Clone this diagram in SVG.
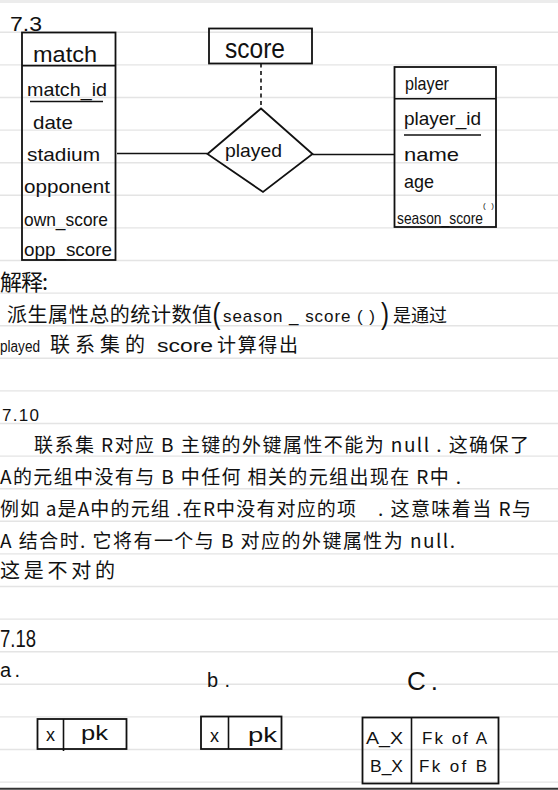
<svg xmlns="http://www.w3.org/2000/svg" width="558" height="790" viewBox="0 0 558 790">
<style>
.rule{stroke:#e4e4e4;stroke-width:1.4}
.box{fill:none;stroke:#111;stroke-width:1.8}
.ln{stroke:#111;stroke-width:1.6;fill:none}
.en{font-family:"Liberation Sans","DejaVu Sans",sans-serif;fill:#111}
.cn{font-family:"Noto Sans CJK SC","Noto Sans",sans-serif;fill:#111}
</style>
<rect x="0" y="0" width="558" height="790" fill="#fff"/>
<rect x="0" y="0" width="558" height="3" fill="#ececec"/>
<g id="ruling">
<line class="rule" x1="0" y1="32.3" x2="558" y2="32.3"/>
<line class="rule" x1="0" y1="64.9" x2="558" y2="64.9"/>
<line class="rule" x1="0" y1="97.5" x2="558" y2="97.5"/>
<line class="rule" x1="0" y1="130.1" x2="558" y2="130.1"/>
<line class="rule" x1="0" y1="162.7" x2="558" y2="162.7"/>
<line class="rule" x1="0" y1="195.3" x2="558" y2="195.3"/>
<line class="rule" x1="0" y1="227.9" x2="558" y2="227.9"/>
<line class="rule" x1="0" y1="260.5" x2="558" y2="260.5"/>
<line class="rule" x1="0" y1="293.1" x2="558" y2="293.1"/>
<line class="rule" x1="0" y1="325.7" x2="558" y2="325.7"/>
<line class="rule" x1="0" y1="358.3" x2="558" y2="358.3"/>
<line class="rule" x1="0" y1="390.9" x2="558" y2="390.9"/>
<line class="rule" x1="0" y1="423.5" x2="558" y2="423.5"/>
<line class="rule" x1="0" y1="456.1" x2="558" y2="456.1"/>
<line class="rule" x1="0" y1="488.7" x2="558" y2="488.7"/>
<line class="rule" x1="0" y1="521.3" x2="558" y2="521.3"/>
<line class="rule" x1="0" y1="553.9" x2="558" y2="553.9"/>
<line class="rule" x1="0" y1="586.5" x2="558" y2="586.5"/>
<line class="rule" x1="0" y1="619.1" x2="558" y2="619.1"/>
<line class="rule" x1="0" y1="651.7" x2="558" y2="651.7"/>
<line class="rule" x1="0" y1="684.3" x2="558" y2="684.3"/>
<line class="rule" x1="0" y1="716.9" x2="558" y2="716.9"/>
<line class="rule" x1="0" y1="749.5" x2="558" y2="749.5"/>
<line class="rule" x1="0" y1="782.1" x2="558" y2="782.1"/>
</g>
<line x1="0" y1="788.8" x2="558" y2="788.8" stroke="#333" stroke-width="2"/>

<text class="en" x="10" y="31" font-size="20" textLength="32" lengthAdjust="spacingAndGlyphs">7.3</text>

<g id="connectors">
<line class="ln" x1="117" y1="153.5" x2="207.5" y2="153.5"/>
<line class="ln" x1="312.5" y1="154.5" x2="394.5" y2="154.5"/>
<line class="ln" x1="261" y1="63.5" x2="261" y2="108.5" stroke-dasharray="4,3.5"/>
</g>

<g id="match">
<rect class="box" x="22" y="32.5" width="93.5" height="227.5"/>
<line class="ln" x1="22" y1="65.6" x2="115.5" y2="65.6"/>
<text class="en" x="33" y="62" font-size="22" textLength="64" lengthAdjust="spacingAndGlyphs">match</text>
<text class="en" x="27" y="96" font-size="19" textLength="80" lengthAdjust="spacingAndGlyphs">match_id</text>
<line class="ln" x1="30" y1="101.5" x2="103" y2="101.5"/>
<text class="en" x="33" y="129" font-size="19" textLength="40" lengthAdjust="spacingAndGlyphs">date</text>
<text class="en" x="27" y="161" font-size="19" textLength="73" lengthAdjust="spacingAndGlyphs">stadium</text>
<text class="en" x="24" y="193" font-size="19" textLength="86" lengthAdjust="spacingAndGlyphs">opponent</text>
<text class="en" x="24" y="226" font-size="19" textLength="84" lengthAdjust="spacingAndGlyphs">own_score</text>
<text class="en" x="24" y="256" font-size="19" textLength="88" lengthAdjust="spacingAndGlyphs">opp_score</text>
</g>

<g id="score">
<rect class="box" x="209" y="28.5" width="103" height="35"/>
<text class="en" x="225" y="58" font-size="28" textLength="60" lengthAdjust="spacingAndGlyphs">score</text>
</g>

<g id="played">
<polygon class="box" points="261,108.5 312.5,154 263,192 207.5,154"/>
<text class="en" x="225" y="157" font-size="19" textLength="57" lengthAdjust="spacingAndGlyphs">played</text>
</g>

<g id="player">
<rect class="box" x="394.5" y="67" width="101.5" height="160"/>
<line class="ln" x1="394.5" y1="98.7" x2="496" y2="98.7"/>
<text class="en" x="405" y="90" font-size="19" textLength="44" lengthAdjust="spacingAndGlyphs">player</text>
<text class="en" x="404" y="125" font-size="19" textLength="77" lengthAdjust="spacingAndGlyphs">player_id</text>
<line class="ln" x1="404" y1="135" x2="481" y2="135"/>
<text class="en" x="404" y="161" font-size="19" textLength="55" lengthAdjust="spacingAndGlyphs">name</text>
<text class="en" x="404" y="188" font-size="19" textLength="30" lengthAdjust="spacingAndGlyphs">age</text>
<text class="en" x="397" y="224" font-size="17" textLength="86" lengthAdjust="spacingAndGlyphs">season_score</text>
<text class="en" x="483" y="208" font-size="8" textLength="11" lengthAdjust="spacing">( )</text>
</g>

<g id="explanation">
<text class="cn" x="0" y="290" font-size="22" textLength="48" lengthAdjust="spacing">解释:</text>
<text class="cn" x="7" y="322" font-size="20" textLength="205" lengthAdjust="spacing">派生属性总的统计数值</text>
<text class="en" x="212.5" y="324" font-size="30" textLength="8" lengthAdjust="spacingAndGlyphs">(</text>
<text class="en" x="223" y="322" font-size="17" textLength="152" lengthAdjust="spacing">season _ score ( )</text>
<text class="en" x="381" y="324" font-size="30" textLength="8" lengthAdjust="spacingAndGlyphs">)</text>
<text class="cn" x="393" y="322" font-size="18" textLength="54" lengthAdjust="spacing">是通过</text>
<text class="en" x="0" y="352" font-size="16" textLength="40" lengthAdjust="spacingAndGlyphs">played</text>
<text class="cn" x="50" y="352" font-size="20" textLength="95" lengthAdjust="spacing">联系集的</text>
<text class="en" x="157" y="352" font-size="18" textLength="56" lengthAdjust="spacingAndGlyphs">score</text>
<text class="cn" x="217" y="352" font-size="19" textLength="81" lengthAdjust="spacing">计算得出</text>
</g>

<g id="q710">
<text class="en" x="2" y="421" font-size="17" textLength="37" lengthAdjust="spacing">7.10</text>
<text class="cn" x="34" y="452" font-size="19" textLength="495" lengthAdjust="spacing">联系集 R对应 B 主键的外键属性不能为 null . 这确保了</text>
<text class="cn" x="0" y="484" font-size="19" textLength="461" lengthAdjust="spacing">A的元组中没有与 B 中任何 相关的元组出现在 R中 .</text>
<text class="cn" x="0" y="516" font-size="19" textLength="356" lengthAdjust="spacing">例如 a是A中的元组 .在R中没有对应的项</text>
<text class="cn" x="378" y="516" font-size="19" textLength="153" lengthAdjust="spacing">. 这意味着当 R与</text>
<text class="cn" x="0" y="548" font-size="19" textLength="455" lengthAdjust="spacing">A 结合时. 它将有一个与 B 对应的外键属性为 null.</text>
<text class="cn" x="0" y="578" font-size="20" textLength="115" lengthAdjust="spacing">这是不对的</text>
</g>

<g id="q718">
<text class="en" x="0" y="647" font-size="24" textLength="36" lengthAdjust="spacingAndGlyphs">7.18</text>
<text class="en" x="0" y="677" font-size="20" textLength="20" lengthAdjust="spacing">a.</text>
<text class="en" x="207" y="687" font-size="20" textLength="23" lengthAdjust="spacing">b.</text>
<text class="en" x="407" y="690" font-size="26" textLength="31" lengthAdjust="spacing">C.</text>
</g>

<g id="table-a">
<rect class="box" x="37.5" y="719" width="89" height="30"/>
<line class="ln" x1="63.5" y1="719" x2="63.5" y2="751"/>
<text class="en" x="46" y="741" font-size="18">x</text>
<text class="en" x="81" y="740" font-size="20" textLength="27" lengthAdjust="spacingAndGlyphs">pk</text>
</g>

<g id="table-b">
<rect class="box" x="201" y="716.5" width="80.5" height="32.5"/>
<line class="ln" x1="228.5" y1="716.5" x2="228.5" y2="749"/>
<text class="en" x="210" y="742" font-size="18">x</text>
<text class="en" x="248" y="742" font-size="20" textLength="29" lengthAdjust="spacingAndGlyphs">pk</text>
</g>

<g id="table-c">
<rect class="box" x="362.5" y="717.5" width="136" height="66"/>
<line class="ln" x1="411.5" y1="717.5" x2="411.5" y2="783.5"/>
<text class="en" x="366" y="744" font-size="17" textLength="37" lengthAdjust="spacingAndGlyphs">A_X</text>
<text class="en" x="422" y="744" font-size="17" textLength="65" lengthAdjust="spacing">Fk of A</text>
<text class="en" x="370" y="772" font-size="17" textLength="33" lengthAdjust="spacingAndGlyphs">B_X</text>
<text class="en" x="419" y="772" font-size="17" textLength="68" lengthAdjust="spacing">Fk of B</text>
</g>
</svg>
